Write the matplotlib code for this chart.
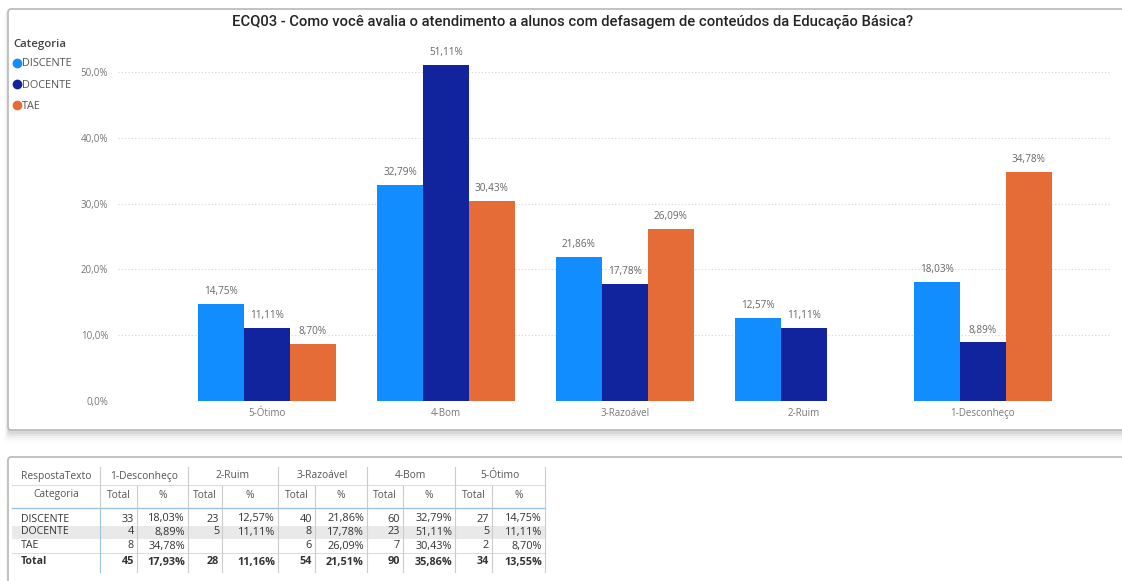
import matplotlib
matplotlib.use("Agg")
import matplotlib.pyplot as plt
from matplotlib.patches import Rectangle, FancyBboxPatch
from matplotlib.lines import Line2D
import numpy as np

plt.rcParams['font.family'] = ['Open Sans', 'DejaVu Sans']

# ---------------- data ----------------
title = "ECQ03 - Como você avalia o atendimento a alunos com defasagem de conteúdos da Educação Básica?"
categories = ['5-Ótimo', '4-Bom', '3-Razoável', '2-Ruim', '1-Desconheço']
series_names = ['DISCENTE', 'DOCENTE', 'TAE']
discente_pct = [14.75, 32.79, 21.86, 12.57, 18.03]
docente_pct = [11.11, 51.11, 17.78, 11.11, 8.89]
tae_pct = [8.70, 30.43, 26.09, None, 34.78]
colors = ['#118DFF', '#12239E', '#E66C37']
yticks = [0, 10, 20, 30, 40, 50]

# table data (column order 1-Desconheço ... 5-Ótimo)
table_cols = ['1-Desconheço', '2-Ruim', '3-Razoável', '4-Bom', '5-Ótimo']
discente_total = [33, 23, 40, 60, 27]
docente_total = [4, 5, 8, 23, 5]
tae_total = [8, None, 6, 7, 2]
total_total = [45, 28, 54, 90, 34]
total_pct = [17.93, 11.16, 21.51, 35.86, 13.55]

W, H = 1122, 581
fig = plt.figure(figsize=(W / 100, H / 100), dpi=100)
fig.patch.set_facecolor('white')

# background overlay in pixel coordinates
bg = fig.add_axes([0, 0, 1, 1], zorder=0)
bg.set_xlim(0, W)
bg.set_ylim(H, 0)
bg.axis('off')

# shadows
for i, a in enumerate([0.05, 0.04, 0.03, 0.02, 0.012]):
    bg.add_patch(FancyBboxPatch((8 - i, 9 + 2), 1140, 421 + 2 + 2 * i,
                                boxstyle="round,pad=0,rounding_size=3",
                                facecolor='black', edgecolor='none', alpha=a))
# chart panel
bg.add_patch(FancyBboxPatch((8, 9), 1140, 421, boxstyle="round,pad=0,rounding_size=3",
                            facecolor='white', edgecolor='#b8b8b8', linewidth=1.2))
# table panel
for i, a in enumerate([0.04, 0.03, 0.02]):
    bg.add_patch(FancyBboxPatch((8 - i, 457 + 2), 1140, 200,
                                boxstyle="round,pad=0,rounding_size=3",
                                facecolor='black', edgecolor='none', alpha=a))
bg.add_patch(FancyBboxPatch((8, 457), 1140, 200, boxstyle="round,pad=0,rounding_size=3",
                            facecolor='white', edgecolor='#b8b8b8', linewidth=1.2))

# title
bg.text(573, 22, title, ha='center', va='center', fontsize=10.6,
        family=['Roboto', 'DejaVu Sans'], fontweight='medium', color='#252423')

# ---------------- chart ----------------
ax = fig.add_axes([118 / W, 1 - 401 / H, (1110 - 118) / W, (401 - 39) / H], zorder=1)
ax.patch.set_alpha(0)
x = np.arange(len(categories))
bw = 46 / 179
all_series = [discente_pct, docente_pct, tae_pct]
for j, (vals, c) in enumerate(zip(all_series, colors)):
    off = (j - 1) * bw
    for xi, v in zip(x, vals):
        if v is None:
            continue
        ax.bar(xi + off, v, bw, color=c, zorder=2)
        ax.annotate(f"{v:.2f}%".replace('.', ','), (xi + off, v), xytext=(0, 5),
                    textcoords='offset points', ha='center', va='bottom',
                    fontsize=7.2, color='#666666')

ax.set_xlim(-0.832, 4.71)
ax.set_ylim(0, 55)
ax.set_yticks(yticks)
ax.set_yticklabels([f"{v:.1f}%".replace('.', ',') for v in yticks])
ax.set_xticks(x)
ax.set_xticklabels(categories)
ax.tick_params(axis='both', length=0, labelsize=7.0, labelcolor='#777777')
ax.tick_params(axis='y', pad=7)
ax.tick_params(axis='x', pad=5)
for s in ax.spines.values():
    s.set_visible(False)
ax.yaxis.grid(True, linestyle=(0, (1, 2)), color='#d5d5d5', linewidth=0.8, zorder=0)
ax.set_axisbelow(True)

handles = [Line2D([0], [0], marker='o', linestyle='none', markersize=6,
                  markerfacecolor=c, markeredgecolor=c) for c in colors]
leg = fig.legend(handles, series_names, title='Categoria', loc='upper left',
                 bbox_to_anchor=(13 / W, 1 - 39 / H), frameon=False,
                 fontsize=7.8, title_fontsize=8.2, handlelength=0.7,
                 handletextpad=0.15, labelspacing=0.95, borderaxespad=0,
                 borderpad=0)
leg._legend_box.align = 'left'
leg._legend_box.sep = 6
leg.get_title().set_color('#444444')
leg.get_title().set_fontweight('semibold')
for t in leg.get_texts():
    t.set_color('#555555')

# ---------------- table ----------------
col_edges = [12, 100, 137, 188, 222, 278, 315, 367, 403, 455, 492, 545]
group_edges = [100, 188, 278, 367, 455, 545]
row_y = {'h1': 476, 'h2': 495, 'r0': 519, 'r1': 532, 'r2': 546, 'tot': 562}
fs = 7.8
hdr_color = '#555555'
txt_color = '#333333'

# DOCENTE row background
bg.add_patch(Rectangle((12, 526), 545 - 12, 13, facecolor='#e9e9e9', edgecolor='none'))

# headers
bg.text((col_edges[0] + col_edges[1]) / 2, row_y['h1'], 'RespostaTexto', ha='center',
        va='center', fontsize=fs - 0.4, color=hdr_color)
bg.text((col_edges[0] + col_edges[1]) / 2, row_y['h2'], 'Categoria', ha='center',
        va='center', fontsize=fs - 0.4, color=hdr_color)
for k, name in enumerate(table_cols):
    gx0, gx1 = group_edges[k], group_edges[k + 1]
    bg.text((gx0 + gx1) / 2, row_y['h1'], name, ha='center', va='center', fontsize=fs - 0.4,
            color=hdr_color)
    c0, c1, c2 = col_edges[1 + 2 * k], col_edges[2 + 2 * k], col_edges[3 + 2 * k]
    bg.text((c0 + c1) / 2, row_y['h2'], 'Total', ha='center', va='center', fontsize=fs - 0.4,
            color=hdr_color)
    bg.text((c1 + c2) / 2, row_y['h2'], '%', ha='center', va='center', fontsize=fs - 0.4,
            color=hdr_color)

# lines
bg.plot([12, 545], [485, 485], color='#dddddd', lw=0.8)
bg.plot([12, 545], [508, 508], color='#9cc3e6', lw=1.0)
bg.plot([12, 545], [553, 553], color='#dddddd', lw=0.8)
for gx in group_edges:
    bg.plot([gx, gx], [467, 485], color='#cccccc', lw=0.8)
for cx in col_edges[1:]:
    bg.plot([cx, cx], [486, 507], color='#cccccc', lw=0.8)
    c = '#9cc3e6' if cx == 100 else '#cccccc'
    bg.plot([cx, cx], [509, 572], color=c, lw=0.8)

rows = [('DISCENTE', discente_total, discente_pct[::-1], 'r0', 'normal'),
        ('DOCENTE', docente_total, docente_pct[::-1], 'r1', 'normal'),
        ('TAE', tae_total, tae_pct[::-1], 'r2', 'normal'),
        ('Total', total_total, total_pct, 'tot', 'bold')]
for name, tots, pcts, key, wt in rows:
    yy = row_y[key]
    bg.text(21, yy, name, ha='left', va='center', fontsize=fs - 0.2, color=txt_color,
            fontweight=wt)
    for k in range(len(table_cols)):
        c1, c2 = col_edges[2 + 2 * k], col_edges[3 + 2 * k]
        if tots[k] is not None:
            bg.text(c1 - 3, yy, f"{tots[k]}", ha='right', va='center', fontsize=fs,
                    color=txt_color, fontweight=wt)
        if pcts[k] is not None:
            bg.text(c2 - 3, yy, f"{pcts[k]:.2f}%".replace('.', ','), ha='right',
                    va='center', fontsize=fs, color=txt_color, fontweight=wt)

fig.savefig('out.png', dpi=100, facecolor='white')
